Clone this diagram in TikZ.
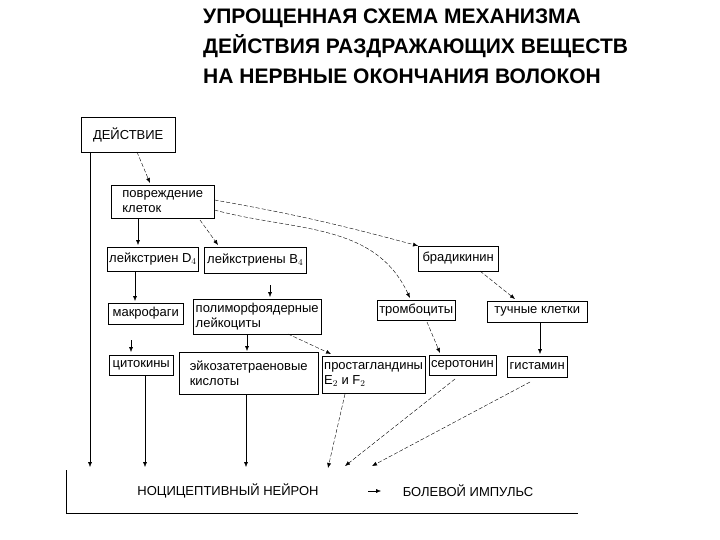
\documentclass[tikz,border=0pt]{standalone}
\usepackage{fontspec}
\setmainfont{Liberation Sans}
\usetikzlibrary{arrows.meta}
\tikzset{
  box/.style={draw,rectangle,anchor=west,inner xsep=2pt,inner ysep=0pt,align=left,font=\fontsize{13}{15}\selectfont},
  sol/.style={-{Latex[length=5pt,width=4pt]}},
  dsh/.style={-{Latex[length=5pt,width=4pt]},dashed,dash pattern=on 4pt off 2pt}
}
\newcommand\Bx[6]{\node[box,minimum width=#4pt,minimum height=#5pt] (#1) at (#2,#3+#5/2) {#6};}
\begin{document}
\begin{tikzpicture}[x=1pt,y=-1pt]
				\useasboundingbox (0,0) rectangle (720,540);
				\node[anchor=north west,align=left,inner sep=0pt,font=\fontsize{21}{30}\bfseries] (title) at (203,9)
				  {УПРОЩЕННАЯ СХЕМА МЕХАНИЗМА\\ДЕЙСТВИЯ РАЗДРАЖАЮЩИХ ВЕЩЕСТВ\\НА НЕРВНЫЕ ОКОНЧАНИЯ ВОЛОКОН};
				\Bx{act}{81}{117}{94}{35}{ДЕЙСТВИЕ}
				\Bx{dmg}{111}{185}{103}{33}{повреждение\\клеток}
				\Bx{ltd}{107}{247}{91}{24}{лейкстриен D$_4$}
				\Bx{ltb}{204}{247}{102}{26}{лейкстриены B$_4$}
				\Bx{brad}{418}{246}{80}{25}{брадикинин}
				\Bx{macro}{108}{303}{75}{21}{макрофаги}
				\Bx{poly}{193}{299}{128}{35}{полиморфоядерные\\лейкоциты}
				\Bx{tromb}{377}{300}{78}{20}{тромбоциты}
				\Bx{tuch}{487}{301}{100}{21}{тучные клетки}
				\Bx{cyto}{109}{355}{64}{20}{цитокины}
				\Bx{eiko}{179}{352}{139}{42}{эйкозатетраеновые\\кислоты}
				\Bx{prost}{322}{356}{98}{37}{простагландины\\E$_2$ и F$_2$}
				\Bx{sero}{429}{355}{59}{20}{серотонин}
				\Bx{hist}{507}{356}{60}{21}{гистамин}
				\node[font=\fontsize{13}{15}\selectfont] (neur) at (228,491) {НОЦИЦЕПТИВНЫЙ НЕЙРОН};
				\node[font=\fontsize{13}{15}\selectfont] (pain) at (468,491) {БОЛЕВОЙ ИМПУЛЬС};
				\draw (66,470) -- (66,513) -- (578,513);
				\coordinate (n1) at (90,467);
				\coordinate (n2) at (145,467);
				\coordinate (n3) at (246,467);
				\coordinate (n4) at (328,468);
				\coordinate (n5) at (345,466);
				\coordinate (n6) at (372,466);
				\coordinate (p0) at (368,491);
				\draw[sol] (p0) -- (381,491);
				% from action and damaged cells
				\draw[sol] (act.south west -| n1) -- (n1);
				\draw[dsh] (137,152) -- (150,183);
				\draw[sol] (dmg.south west -| 138,0) -- (138,245);
				\draw[dsh] (200,220) -- (218,245);
				\draw[dsh] (dmg.east |- 0,200) to[out=-10,in=165] (brad.north west);
				\draw[dsh] (dmg.east |- 0,210) to[out=-15,in=115] (410,298);
				\draw[dsh] (480,271) -- (515,299);
				% middle row
				\draw[sol] (135,271) -- (135,301);
				\draw[sol] (270,285) -- (270,297);
				\draw[sol] (131,340) -- (131,352);
				\draw[sol] (247,334) -- (247,351);
				\draw[dsh] (288,334) -- (331,354);
				\draw[dsh] (427,322) -- (440,353);
				\draw[sol] (540,322) -- (540,354);
				% to the neuron
				\draw[sol] (cyto.south -| n2) -- (n2);
				\draw[sol] (eiko.south -| n3) -- (n3);
				\draw[dsh] (345,394) -- (n4);
				\draw[dsh] (455,379) -- (n5);
				\draw[dsh] (530,382) -- (n6);
			\end{tikzpicture}
\end{document}
